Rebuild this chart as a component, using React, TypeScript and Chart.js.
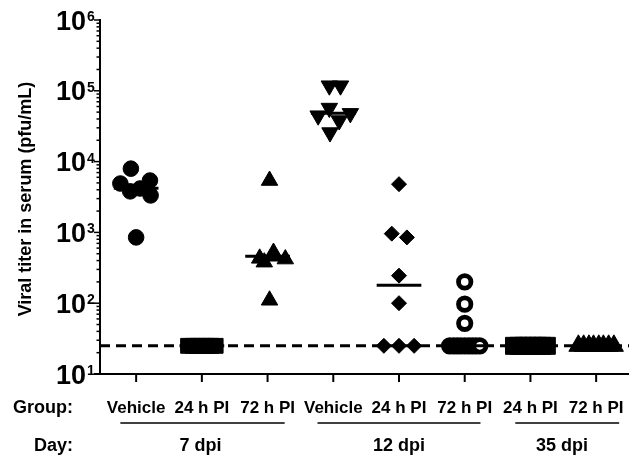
import { useEffect, useRef } from "react";
import { Chart, registerables } from "chart.js";

Chart.register(...registerables);

// ---- data ----
const groupLabels = ["Vehicle", "24 h PI", "72 h PI", "Vehicle", "24 h PI", "72 h PI", "24 h PI", "72 h PI"];
const dayLabels = ["7 dpi", "12 dpi", "35 dpi"];
const daySpans = [[-0.24, 2.26], [2.76, 5.24], [5.77, 7.35]];
const dayCenters = [0.98, 4.0, 6.48];
const yTickExponents = [1, 2, 3, 4, 5, 6];
const detectionLimit = 25;

// 7 dpi Vehicle (filled circles)
const g0Values = [7950, 4900, 5400, 3800, 4170, 3330, 850];
const g0Offsets = [-0.08, -0.24, 0.21, -0.09, 0.06, 0.22, 0];
// 7 dpi 24 h PI (squares)
const g1Values = [25, 25, 25, 25, 25, 25, 25];
const g1Offsets = [-0.21, -0.14, -0.07, 0, 0.07, 0.14, 0.21];
// 7 dpi 72 h PI (triangles)
const g2Values = [5400, 430, 380, 520, 460, 420, 110];
const g2Offsets = [0.03, -0.12, -0.05, 0.09, 0.1, 0.27, 0.03];
// 12 dpi Vehicle (inverted triangles)
const g3Values = [118000, 118000, 57000, 44500, 38000, 48000, 25700];
const g3Offsets = [-0.06, 0.11, -0.06, -0.23, 0.09, 0.26, -0.05];
// 12 dpi 24 h PI (diamonds)
const g4Values = [4800, 960, 850, 245, 100, 25, 25, 25];
const g4Offsets = [0, -0.11, 0.12, 0, 0, -0.23, 0, 0.23];
// 12 dpi 72 h PI (open circles)
const g5Values = [200, 97, 52, 25, 25, 25, 25, 25, 25, 25, 25, 25];
const g5Offsets = [0, 0, 0, -0.23, -0.17, -0.115, -0.06, 0, 0.06, 0.115, 0.17, 0.23];
// 35 dpi 24 h PI (squares)
const g6Values = [25, 25, 25, 25, 25, 25, 25, 25];
const g6Offsets = [-0.25, -0.18, -0.11, -0.04, 0.04, 0.11, 0.18, 0.25];
// 35 dpi 72 h PI (triangles)
const g7Values = [25, 25, 25, 25, 25, 25, 25, 25];
const g7Offsets = [-0.27, -0.19, -0.11, -0.04, 0.04, 0.11, 0.19, 0.27];

const medians = [4200, 25, 460, 48000, 180, 25, 25, 25];

const groupValues = [g0Values, g1Values, g2Values, g3Values, g4Values, g5Values, g6Values, g7Values];
const groupOffsets = [g0Offsets, g1Offsets, g2Offsets, g3Offsets, g4Offsets, g5Offsets, g6Offsets, g7Offsets];

// ---- styles ----
const FONT = "'Liberation Sans', Arial, Helvetica, sans-serif";
const markerStyles: any[] = [
  { pointStyle: "circle", pointRadius: 7.8, pointBackgroundColor: "#000", pointBorderWidth: 1, pointRotation: 0 },
  { pointStyle: "rect", pointRadius: 10.5, pointBackgroundColor: "#000", pointBorderWidth: 1, pointRotation: 0 },
  { pointStyle: "triangle", pointRadius: 9.5, pointBackgroundColor: "#000", pointBorderWidth: 1, pointRotation: 0 },
  { pointStyle: "triangle", pointRadius: 9.5, pointBackgroundColor: "#000", pointBorderWidth: 1, pointRotation: 180 },
  { pointStyle: "rectRot", pointRadius: 7.5, pointBackgroundColor: "#000", pointBorderWidth: 1, pointRotation: 0 },
  { pointStyle: "circle", pointRadius: 6.2, pointBackgroundColor: "#fff", pointBorderWidth: 4.8, pointRotation: 0 },
  { pointStyle: "rect", pointRadius: 12, pointBackgroundColor: "#000", pointBorderWidth: 1, pointRotation: 0 },
  { pointStyle: "triangle", pointRadius: 11, pointBackgroundColor: "#000", pointBorderWidth: 1, pointRotation: 0 },
];

const axesPlugin = {
  id: "customAxes",
  afterDraw(chart: any) {
    const ctx = chart.ctx as CanvasRenderingContext2D;
    const xs = chart.scales.x;
    const ys = chart.scales.y;
    const area = chart.chartArea;
    ctx.save();
    ctx.strokeStyle = "#000";
    ctx.fillStyle = "#000";
    ctx.lineCap = "butt";

    // y axis line
    ctx.lineWidth = 2;
    ctx.beginPath();
    ctx.moveTo(area.left, area.top - 1);
    ctx.lineTo(area.left, area.bottom + 1);
    ctx.stroke();
    // x axis line
    ctx.beginPath();
    ctx.moveTo(area.left - 6, area.bottom);
    ctx.lineTo(area.right, area.bottom);
    ctx.stroke();

    // y ticks (major + minor)
    ctx.lineWidth = 1.5;
    for (let e = yTickExponents[0]; e <= yTickExponents[yTickExponents.length - 1]; e++) {
      const y = ys.getPixelForValue(Math.pow(10, e));
      ctx.beginPath();
      ctx.moveTo(area.left - 6, y);
      ctx.lineTo(area.left, y);
      ctx.stroke();
      if (e < yTickExponents[yTickExponents.length - 1]) {
        for (let m = 2; m <= 9; m++) {
          const ym = ys.getPixelForValue(m * Math.pow(10, e));
          ctx.beginPath();
          ctx.moveTo(area.left - 3.5, ym);
          ctx.lineTo(area.left, ym);
          ctx.stroke();
        }
      }
    }

    // y tick labels 10^n
    yTickExponents.forEach((e) => {
      const y = ys.getPixelForValue(Math.pow(10, e));
      ctx.font = `bold 27px ${FONT}`;
      ctx.textAlign = "right";
      ctx.textBaseline = "alphabetic";
      ctx.fillText("10", 86, y + 9.5);
      ctx.font = `bold 14px ${FONT}`;
      ctx.textAlign = "left";
      ctx.fillText(String(e), 87, y + 1);
    });

    // x ticks
    ctx.lineWidth = 2;
    groupLabels.forEach((_, i) => {
      const x = xs.getPixelForValue(i);
      ctx.beginPath();
      ctx.moveTo(x, area.bottom);
      ctx.lineTo(x, area.bottom + 8);
      ctx.stroke();
    });

    // group labels
    ctx.font = `bold 17px ${FONT}`;
    ctx.textAlign = "center";
    ctx.textBaseline = "alphabetic";
    groupLabels.forEach((lab, i) => {
      ctx.fillText(lab, xs.getPixelForValue(i), 413);
    });
    ctx.font = `bold 18px ${FONT}`;
    ctx.textAlign = "right";
    ctx.fillText("Group:", 73, 413);
    ctx.fillText("Day:", 73, 451);

    // day underlines
    ctx.lineWidth = 1.3;
    daySpans.forEach(([a, b]) => {
      ctx.beginPath();
      ctx.moveTo(xs.getPixelForValue(a), 423);
      ctx.lineTo(xs.getPixelForValue(b), 423);
      ctx.stroke();
    });
    ctx.font = `bold 18px ${FONT}`;
    ctx.textAlign = "center";
    dayLabels.forEach((lab, i) => {
      ctx.fillText(lab, xs.getPixelForValue(dayCenters[i]), 451);
    });

    // y title
    ctx.save();
    ctx.translate(26, 199);
    ctx.rotate(-Math.PI / 2);
    ctx.font = `bold 18px ${FONT}`;
    ctx.textAlign = "center";
    ctx.textBaseline = "middle";
    ctx.fillText("Viral titer in serum (pfu/mL)", 0, 0);
    ctx.restore();

    ctx.restore();
  },
};

export default function App() {
  const ref = useRef<HTMLCanvasElement | null>(null);

  useEffect(() => {
    if (!ref.current) return;
    const pointSets = groupValues.map((vals, i) => ({
      type: "scatter" as const,
      data: vals.map((v, k) => ({ x: i + groupOffsets[i][k], y: v })),
      borderColor: "#000",
      pointBorderColor: "#000",
      ...markerStyles[i],
      showLine: false,
      clip: false,
      order: 1,
    }));
    const medianSets = medians.map((m, i) => ({
      type: "line" as const,
      data: [
        { x: i - 0.34, y: m },
        { x: i + 0.34, y: m },
      ],
      borderColor: "#000",
      borderWidth: 3,
      pointRadius: 0,
      showLine: true,
      fill: false,
      clip: false,
      order: 0,
    }));
    const limitSet = {
      type: "line" as const,
      data: [
        { x: -0.55, y: detectionLimit },
        { x: 7.5, y: detectionLimit },
      ],
      borderColor: "#000",
      borderWidth: 3,
      borderDash: [10, 6],
      pointRadius: 0,
      showLine: true,
      fill: false,
      clip: false,
      order: 5,
    };

    const chart = new Chart(ref.current, {
      type: "scatter",
      data: { datasets: [limitSet, ...pointSets, ...medianSets] as any },
      options: {
        responsive: false,
        animation: false,
        devicePixelRatio: 1,
        layout: { autoPadding: false, padding: { left: 100, top: 20, right: 0, bottom: 83 } },
        plugins: { legend: { display: false }, tooltip: { enabled: false } },
        scales: {
          x: { type: "linear", min: -0.55, max: 7.5, display: false },
          y: { type: "logarithmic", min: 10, max: 1e6, display: false },
        },
      } as any,
      plugins: [axesPlugin],
    });
    return () => chart.destroy();
  }, []);

  return (
    <div style={{ position: "fixed", left: 0, top: 0, width: 629, height: 457, background: "#fff" }}>
      <canvas ref={ref} width={629} height={457} style={{ display: "block" }} />
    </div>
  );
}
